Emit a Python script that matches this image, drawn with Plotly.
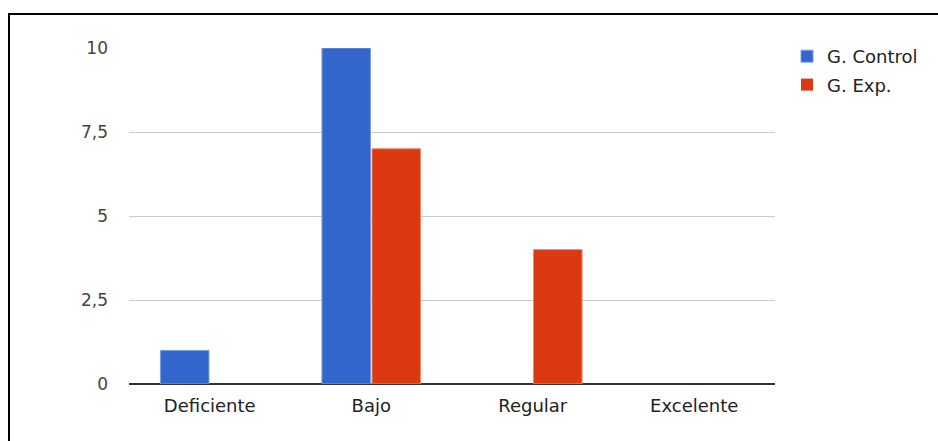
import plotly.graph_objects as go

categories = ["Deficiente", "Bajo", "Regular", "Excelente"]
control_values = [1, 10, 0, 0]
exp_values = [0, 7, 4, 0]
series_names = ["G. Control", "G. Exp."]
tick_values = [0, 2.5, 5, 7.5, 10]
tick_labels = ["0", "2,5", "5", "7,5", "10"]

W, H = 938, 441
L, R, T, B = 129, 163, 48, 57
pw, ph = W - L - R, H - T - B

def px_x(x):
    return (x - L) / pw

def px_y(y):
    return (H - B - y) / ph

font = "DejaVu Sans"

def outline(vals):
    return [1 if v > 0 else 0 for v in vals]

fig = go.Figure()
fig.add_trace(go.Bar(x=categories, y=control_values, name=series_names[0],
                     marker=dict(color="#3366cc",
                                 line=dict(color="#7d9ee0", width=outline(control_values))),
                     legendgroup="a"))
fig.add_trace(go.Bar(x=categories, y=exp_values, name=series_names[1],
                     marker=dict(color="#dc3912",
                                 line=dict(color="#ea8a70", width=outline(exp_values))),
                     legendgroup="b"))

fig.update_layout(
    width=W, height=H,
    margin=dict(l=L, r=R, t=T, b=B, pad=0),
    paper_bgcolor="white", plot_bgcolor="white",
    barmode="group", bargap=0.38, bargroupgap=0.03,
    font=dict(family=font, size=17, color="#222"),
    showlegend=True,
    legend=dict(x=px_x(787), y=px_y(38), xanchor="left", yanchor="top",
                font=dict(family=font, size=18, color="#222"),
                tracegroupgap=2, itemwidth=30, bgcolor="rgba(0,0,0,0)"),
    xaxis=dict(showgrid=False, showline=False, ticks="", zeroline=False,
               ticklabelstandoff=9,
               tickfont=dict(family=font, size=18, color="#222")),
    yaxis=dict(range=[0, 10], tickvals=tick_values, ticktext=tick_labels,
               showgrid=True, gridcolor="#cccccc", gridwidth=1,
               zeroline=True, zerolinecolor="#333333", zerolinewidth=2,
               showline=False, ticks="", ticklabelstandoff=20,
               tickfont=dict(family=font, size=17, color="#444")),
    shapes=[
        dict(type="line", xref="paper", yref="paper",
             x0=px_x(8), x1=px_x(940), y0=px_y(14), y1=px_y(14),
             line=dict(color="black", width=2)),
        dict(type="line", xref="paper", yref="paper",
             x0=px_x(9), x1=px_x(9), y0=px_y(13), y1=px_y(445),
             line=dict(color="black", width=2)),
    ],
)

fig.write_html("out.html")
